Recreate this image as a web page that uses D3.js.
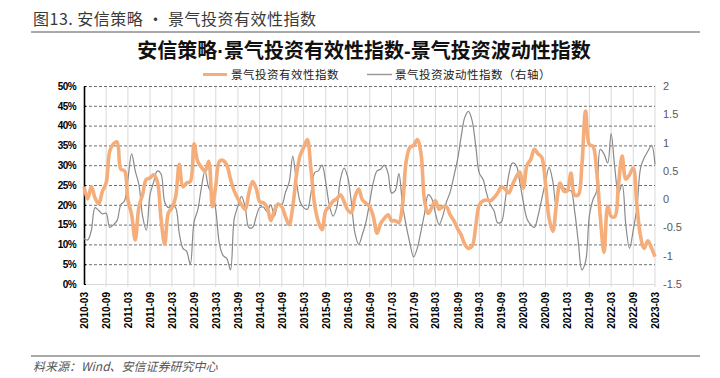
<!DOCTYPE html>
<html><head><meta charset="utf-8">
<script src="https://cdn.jsdelivr.net/npm/d3@7"></script>
<style>
html,body{margin:0;padding:0;background:#fff;}
svg{display:block;}
</style></head>
<body>
<svg id="c" width="720" height="378"></svg>
<script>
// ---------- data ----------
const startMonth = "2010-03";
const endMonth = "2023-03";
const tickLabels = ["2010-03","2010-09","2011-03","2011-09","2012-03","2012-09","2013-03","2013-09","2014-03","2014-09","2015-03","2015-09","2016-03","2016-09","2017-03","2017-09","2018-03","2018-09","2019-03","2019-09","2020-03","2020-09","2021-03","2021-09","2022-03","2022-09","2023-03"];
const leftTicks = [0,5,10,15,20,25,30,35,40,45,50];
const rightTicks = [-1.5,-1,-0.5,0,0.5,1,1.5,2];
// 景气投资有效性指数 (%) monthly
const effValues = [
24.6,21.5,24.6,21.7,20.3,23.4,25.5,33.5,35.4,35.9,29,28.6,
21.3,17.5,11.1,19.5,22.5,26.4,26.8,27.6,25.9,16.6,10,18,
19.2,22,30.2,24.5,25.5,25.9,35.4,31,29.5,28.5,31,19.5,
25,31,31.2,30,26.5,23.5,21.5,20,18.8,23,25.9,24,
20.8,20.5,19.5,16,18.5,20.2,19.5,17,15,19.5,27.6,32.5,
34.4,36.5,29,20,15.8,13.7,18.5,19.5,20.9,21.5,22.5,20.8,
18.75,18,22,24,21.3,20.4,19.5,17,12.8,15.3,16.6,17.5,
16,16,15.5,20,31,34.5,35,36.5,33,21,17.8,19.5,
21,18.9,19.5,19.5,17.5,16,14,12.4,10,9,9.6,15,
20,21,21.2,21,21.8,23,24.5,24,23,25,27,28.3,
24.2,30,31.4,34,32.9,32,25.5,16.6,13.3,20,25.5,23.5,
23.5,28,22.5,22.5,30,43.7,35.2,34.8,28.5,17,8,19.6,
17.1,17,25,32.3,26.5,27.6,29.3,20,12,9,10.9,9,
6.9];
// 景气投资波动性指数 (右轴) monthly
const volValues = [
-0.7,-0.72,-0.55,-0.15,-0.2,-0.26,-0.25,-0.5,-0.45,-0.38,-0.1,-0.03,
0.35,0.8,0.5,0.25,-0.3,-0.55,0.08,0.3,0.5,0.45,-0.05,-0.15,
-0.1,-0.15,-0.6,-0.87,-0.92,-1.15,-0.4,-0.2,0.2,0.5,0.2,0.1,
-0.2,-0.8,-1.0,-1.05,-1.25,-0.35,-0.12,0.05,-0.15,-0.5,-0.5,-0.3,
-0.15,-0.14,-0.22,-0.1,-0.3,-0.1,-0.1,0.12,0.3,0.76,0.3,-0.05,
-0.15,-0.18,0.1,0.47,0.5,0.6,0.3,-0.1,-0.3,-0.15,0.35,0.55,
0.4,-0.05,-0.6,-0.8,-0.63,-0.4,-0.05,0.3,0.5,0.53,0.6,0.45,
0.11,0.15,0.45,-0.1,-0.47,-0.78,-1.02,-0.87,-0.57,-0.25,0.08,0.0,
-0.25,-0.45,-0.3,-0.05,0.12,0.4,0.7,1.1,1.45,1.55,1.38,0.91,
0.46,0.35,0.1,-0.1,-0.2,-0.42,-0.4,-0.05,0.43,0.64,0.6,0.3,
-0.05,-0.35,-0.45,-0.5,-0.3,0.0,0.3,0.56,0.32,-0.16,0.2,0.2,
0.15,0.15,-0.2,-0.75,-1.25,-1.1,-0.3,-0.01,0.14,0.88,0.8,0.64,
1.16,0.55,0.1,0.26,-0.45,-0.87,-0.55,-0.16,0.55,0.73,0.85,0.95,
0.61];

// ---------- build ----------
const parse = d3.timeParse("%Y-%m");
const months = d3.timeMonth.range(parse(startMonth), d3.timeMonth.offset(parse(endMonth), 1));
const effData = months.map((d, i) => ({date: d, v: effValues[i]}));
const volData = months.map((d, i) => ({date: d, v: volValues[i]}));

const svg = d3.select("#c");
const L = 84, R = 655, T = 86, B = 284;

const x = d3.scaleTime().domain([parse(startMonth), parse(endMonth)]).range([L, R]);
const yL = d3.scaleLinear().domain([0, 50]).range([B, T]);
const yR = d3.scaleLinear().domain([-1.5, 2]).range([B, T]);

// header
svg.append("text").attr("x", 33).attr("y", 25)
  .attr("font-family", "'Noto Sans CJK SC', sans-serif").attr("font-size", 16)
  .attr("letter-spacing", 0.5).attr("fill", "#3a3a3a")
  .text("图13. 安信策略 • 景气投资有效性指数");
svg.append("line").attr("x1", 31).attr("x2", 700).attr("y1", 32).attr("y2", 32)
  .attr("stroke", "#8c8c8c").attr("stroke-width", 1.5);

// title
const title = svg.append("text").attr("x", 364).attr("y", 58).attr("text-anchor", "middle")
  .attr("font-family", "'Noto Sans CJK SC', sans-serif").attr("font-size", 20).attr("font-weight", "bold")
  .attr("fill", "#111");
title.append("tspan").text("安信策略");
title.append("tspan").attr("font-family", "'Liberation Sans', Arial, sans-serif").text("·");
title.append("tspan").text("景气投资有效性指数");
title.append("tspan").attr("font-family", "'Liberation Sans', Arial, sans-serif").text("-");
title.append("tspan").text("景气投资波动性指数");

// legend
const lg = svg.append("g").attr("font-family", "'Noto Sans CJK SC', sans-serif").attr("font-size", 11.5).attr("fill", "#222");
lg.append("line").attr("x1", 203).attr("x2", 227).attr("y1", 74.5).attr("y2", 74.5).attr("stroke", "#F5AD7A").attr("stroke-width", 3);
lg.append("text").attr("x", 231).attr("y", 78.5).attr("letter-spacing", 0.5).text("景气投资有效性指数");
lg.append("line").attr("x1", 367).attr("x2", 392).attr("y1", 74.5).attr("y2", 74.5).attr("stroke", "#9a9a9a").attr("stroke-width", 1.5);
lg.append("text").attr("x", 395).attr("y", 78.5).attr("letter-spacing", 0.5).text("景气投资波动性指数（右轴）");

// vertical gridlines
const tickDates = tickLabels.map(parse);
svg.append("g").selectAll("line").data(tickDates.slice(1)).join("line")
  .attr("x1", d => x(d)).attr("x2", d => x(d)).attr("y1", T).attr("y2", B + 3)
  .attr("stroke", "#d9d9d9").attr("stroke-width", 1);

// horizontal dashed gridlines
svg.append("g").selectAll("line").data(leftTicks.filter(t => t > 0)).join("line")
  .attr("x1", L).attr("x2", R).attr("y1", d => yL(d) + 0.5).attr("y2", d => yL(d) + 0.5)
  .attr("stroke", "#6e6e6e").attr("stroke-width", 1).attr("stroke-dasharray", "3,2");

// bottom line
svg.append("line").attr("x1", L).attr("x2", R).attr("y1", B + 0.5).attr("y2", B + 0.5)
  .attr("stroke", "#d9d9d9").attr("stroke-width", 1);

// left axis
const axL = d3.axisLeft(yL).tickValues(leftTicks).tickFormat(d => d + "%").tickSizeInner(-2).tickSizeOuter(0).tickPadding(8);
const gL = svg.append("g").attr("transform", `translate(${L},0)`).call(axL);
gL.select(".domain").attr("stroke", "#000").attr("stroke-width", 1.6);
gL.selectAll(".tick line").attr("stroke", "#000").attr("stroke-width", 1.2);
gL.selectAll("text").attr("font-family", "'Liberation Sans', Arial, sans-serif").attr("font-size", 10)
  .attr("font-weight", "bold").attr("letter-spacing", -0.6).attr("fill", "#000");

// right axis
const axR = d3.axisRight(yR).tickValues(rightTicks).tickFormat(d => String(d)).tickSize(0).tickPadding(8);
const gR = svg.append("g").attr("transform", `translate(${R},0)`).call(axR);
gR.select(".domain").remove();
gR.selectAll("text").attr("font-family", "'Liberation Sans', Arial, sans-serif").attr("font-size", 11)
  .attr("fill", "#595959");

// x axis labels
const axX = d3.axisBottom(x).tickValues(tickDates).tickFormat((d, i) => tickLabels[i]).tickSize(0).tickPadding(0);
const gX = svg.append("g").attr("transform", `translate(0,${B})`).call(axX);
gX.select(".domain").remove();
gX.selectAll("text")
  .attr("font-family", "'Liberation Sans', Arial, sans-serif").attr("font-size", 10).attr("font-weight", "bold")
  .attr("fill", "#000").attr("text-anchor", "end").attr("dy", "0.35em")
  .attr("transform", "translate(0,8) rotate(-90)").attr("x", 0).attr("y", 0);

// lines
const curve = d3.curveCatmullRom.alpha(0.5);
svg.append("path").datum(volData)
  .attr("d", d3.line().x(d => x(d.date)).y(d => yR(d.v)).curve(curve))
  .attr("fill", "none").attr("stroke", "#8a8a8a").attr("stroke-width", 1.2);
svg.append("path").datum(effData)
  .attr("d", d3.line().x(d => x(d.date)).y(d => yL(d.v)).curve(curve))
  .attr("fill", "none").attr("stroke", "#F5AD7A").attr("stroke-width", 3.6).attr("stroke-linejoin", "round");

// footer
svg.append("line").attr("x1", 31).attr("x2", 700).attr("y1", 356).attr("y2", 356)
  .attr("stroke", "#8c8c8c").attr("stroke-width", 1.5);
svg.append("text").attr("x", 33).attr("y", 371)
  .attr("font-family", "'Noto Sans CJK SC', sans-serif").attr("font-size", 12).attr("font-style", "italic")
  .attr("fill", "#555")
  .text("料来源：Wind、安信证券研究中心");
</script>
</body></html>
